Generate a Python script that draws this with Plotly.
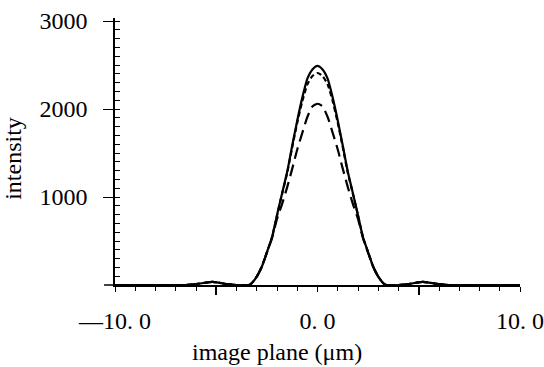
import plotly.graph_objects as go

# Data
x_pos = [-10, -9, -8, -7, -6.5, -6, -5.5, -5.2, -4.9, -4.5, -4, -3.4, -3.25, -3, -2.75, -2.5, -2.25, -2,
         -1.75, -1.5, -1.25, -1, -0.75, -0.5, -0.25, 0, 0.25, 0.5, 0.75, 1, 1.25, 1.5, 1.75, 2, 2.25,
         2.5, 2.75, 3, 3.25, 3.4, 4, 4.5, 4.9, 5.2, 5.5, 6, 6.5, 7, 8, 9, 10]

solid = [0, 0, 0, 0, 0, 10, 28, 35, 28, 10, 0, 0, 20, 95, 208, 372, 540, 793,
         1041, 1284, 1583, 1870, 2130, 2345, 2450, 2490, 2450, 2345, 2130, 1870, 1583, 1284, 1041, 793, 540,
         372, 208, 95, 20, 0, 0, 10, 28, 35, 28, 10, 0, 0, 0, 0, 0]

short_dash = [0, 0, 0, 0, 0, 10, 28, 35, 28, 10, 0, 0, 20, 95, 208, 372, 540, 790,
              1035, 1272, 1565, 1845, 2090, 2280, 2375, 2410, 2375, 2280, 2090, 1845, 1565, 1272, 1035, 790, 540,
              372, 208, 95, 20, 0, 0, 10, 28, 35, 28, 10, 0, 0, 0, 0, 0]

long_dash = [0, 0, 0, 0, 0, 10, 28, 35, 28, 10, 0, 0, 20, 95, 208, 365, 530, 750,
             920, 1110, 1320, 1540, 1730, 1910, 2030, 2060, 2030, 1910, 1730, 1540, 1320, 1110, 920, 750, 530,
             365, 208, 95, 20, 0, 0, 10, 28, 35, 28, 10, 0, 0, 0, 0, 0]

x_tick_vals = [-10, 0, 10]
x_tick_text = ["\u201410. 0", "0. 0", "10. 0"]
x_long_ticks = [-5, 5]
y_tick_vals = [1000, 2000, 3000]
y_tick_text = ["1000", "2000", "3000"]

FONT = "Liberation Serif"

fig = go.Figure()
for vals, dash in [(solid, "solid"), (short_dash, "5px,3px"), (long_dash, "12px,6px")]:
    fig.add_trace(go.Scatter(x=x_pos, y=vals, mode="lines",
                             line=dict(color="black", width=2.2, dash=dash, shape="spline", smoothing=0.6),
                             showlegend=False, hoverinfo="skip"))

# invisible trace for second x axis (long ticks at +-5)
fig.add_trace(go.Scatter(x=[-10, 10], y=[0, 0], xaxis="x2", mode="lines",
                         line=dict(width=0), showlegend=False, hoverinfo="skip"))

fig.update_layout(
    width=544, height=367,
    margin=dict(l=115, r=24, t=18, b=82, autoexpand=False),
    paper_bgcolor="white", plot_bgcolor="white",
    font=dict(family=FONT, color="black", size=24),
    xaxis=dict(range=[-10, 10], showgrid=False, zeroline=False, automargin=False,
               showline=True, linecolor="black", linewidth=1.5,
               tickmode="array", tickvals=x_tick_vals, ticktext=x_tick_text,
               ticks="outside", ticklen=5, tickwidth=1.2, tickcolor="black",
               ticklabelstandoff=8,
               tickfont=dict(family=FONT, size=24, color="black"),
               minor=dict(dtick=1, ticks="outside", ticklen=4, tickwidth=1.2, tickcolor="black")),
    xaxis2=dict(range=[-10, 10], overlaying="x", side="bottom", anchor="y", automargin=False,
                showgrid=False, zeroline=False, showline=False,
                tickmode="array", tickvals=x_long_ticks, showticklabels=False,
                ticks="outside", ticklen=9, tickwidth=1.5, tickcolor="black"),
    yaxis=dict(range=[0, 3035], showgrid=False, zeroline=False, automargin=False,
               showline=True, linecolor="black", linewidth=1.5,
               tickmode="array", tickvals=y_tick_vals, ticktext=y_tick_text,
               ticks="outside", ticklen=10, tickwidth=1.2, tickcolor="black",
               ticklabelstandoff=11,
               tickfont=dict(family=FONT, size=24, color="black"),
               minor=dict(dtick=100, ticks="inside", ticklen=5, tickwidth=1.2, tickcolor="black")),
    annotations=[
        dict(text="image plane (\u03bcm)", xref="paper", yref="paper", x=0.4, y=-0.251,
             xanchor="center", yanchor="middle", showarrow=False,
             font=dict(family=FONT, size=24, color="black")),
        dict(text="intensity", xref="paper", yref="paper", x=-0.252, y=0.476,
             xanchor="center", yanchor="middle", textangle=-90, showarrow=False,
             font=dict(family=FONT, size=24, color="black")),
    ],
    shapes=[dict(type="line", xref="paper", yref="paper", x0=-0.027, x1=0, y0=0, y1=0,
                 line=dict(color="black", width=1.5))],
)

fig.write_html("out.html")
